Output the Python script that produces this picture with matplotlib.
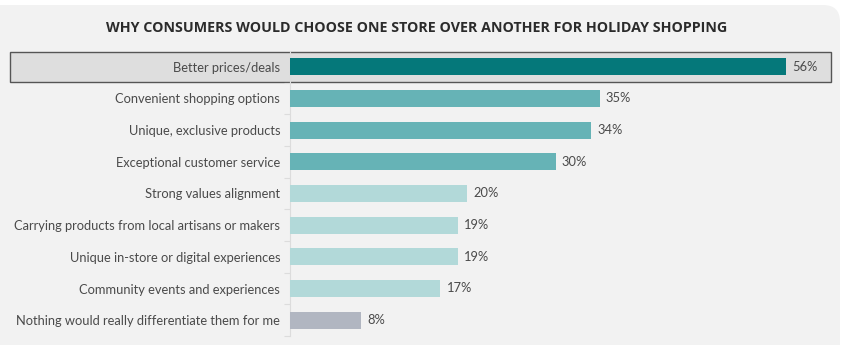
import matplotlib
matplotlib.use("Agg")
import matplotlib.pyplot as plt
from matplotlib.patches import FancyBboxPatch, Rectangle
from matplotlib.transforms import blended_transform_factory

title = "WHY CONSUMERS WOULD CHOOSE ONE STORE OVER ANOTHER FOR HOLIDAY SHOPPING"
categories = [
    "Better prices/deals",
    "Convenient shopping options",
    "Unique, exclusive products",
    "Exceptional customer service",
    "Strong values alignment",
    "Carrying products from local artisans or makers",
    "Unique in-store or digital experiences",
    "Community events and experiences",
    "Nothing would really differentiate them for me",
]
values = [56, 35, 34, 30, 20, 19, 19, 17, 8]
colors = ["#05787a", "#66b3b6", "#66b3b6", "#66b3b6",
          "#b2d9d9", "#b2d9d9", "#b2d9d9", "#b2d9d9", "#b1b6c1"]

W, H = 844, 345
fig = plt.figure(figsize=(W / 100, H / 100), dpi=100, facecolor="white")

# background panel
panel = FancyBboxPatch((-20 / W, -20 / H), (840 + 20) / W, (340 + 20) / H,
                       boxstyle="round,pad=0,rounding_size=0.02",
                       transform=fig.transFigure, facecolor="#f2f2f2",
                       edgecolor="none", zorder=-10, mutation_aspect=W / H)
fig.patches.append(panel)

ax = fig.add_axes([290 / W, 1 - 336 / H, (821 - 290) / W, (336 - 51) / H])
ax.set_facecolor("none")
ax.set_zorder(1)

y = list(range(len(categories)))
ax.barh(y, values, height=0.54, color=colors, zorder=3)
ax.set_xlim(0, 60)
ax.set_ylim(len(categories) - 0.5, -0.5)

txtc = "#4a4a4a"
font = "Lato"
for yi, v in zip(y, values):
    ax.text(v + 0.7, yi, f"{v}%", va="center", ha="left", fontsize=9.3,
            color=txtc, family=font, zorder=4)

ax.set_yticks(y)
ax.set_yticklabels(categories, fontsize=9.3, color=txtc, family=font)
ax.tick_params(axis="y", which="major", length=0, pad=7)
ax.set_yticks([i + 0.5 for i in y[:-1]] + [-0.5 + len(categories)], minor=True)
ax.tick_params(axis="y", which="minor", length=4, color="#dcdcdc", width=0.8)
ax.set_xticks([])
for s in ["top", "right", "bottom"]:
    ax.spines[s].set_visible(False)
ax.spines["left"].set_color("#dcdcdc")
ax.spines["left"].set_linewidth(0.8)

# highlight box for top row
tr = blended_transform_factory(fig.transFigure, ax.transData)
box = Rectangle((10 / W, -0.47), (831 - 10) / W, 0.94, transform=tr,
                facecolor="#dedede", edgecolor="#555555", linewidth=1.0,
                clip_on=False, zorder=1)
ax.add_patch(box)

fig.text(417 / W, 1 - 28 / H, title, ha="center", va="center",
         fontsize=10.3, fontweight="bold", color="#2b2b2b", family="Open Sans")

fig.savefig("out.png", dpi=100, facecolor="white")
